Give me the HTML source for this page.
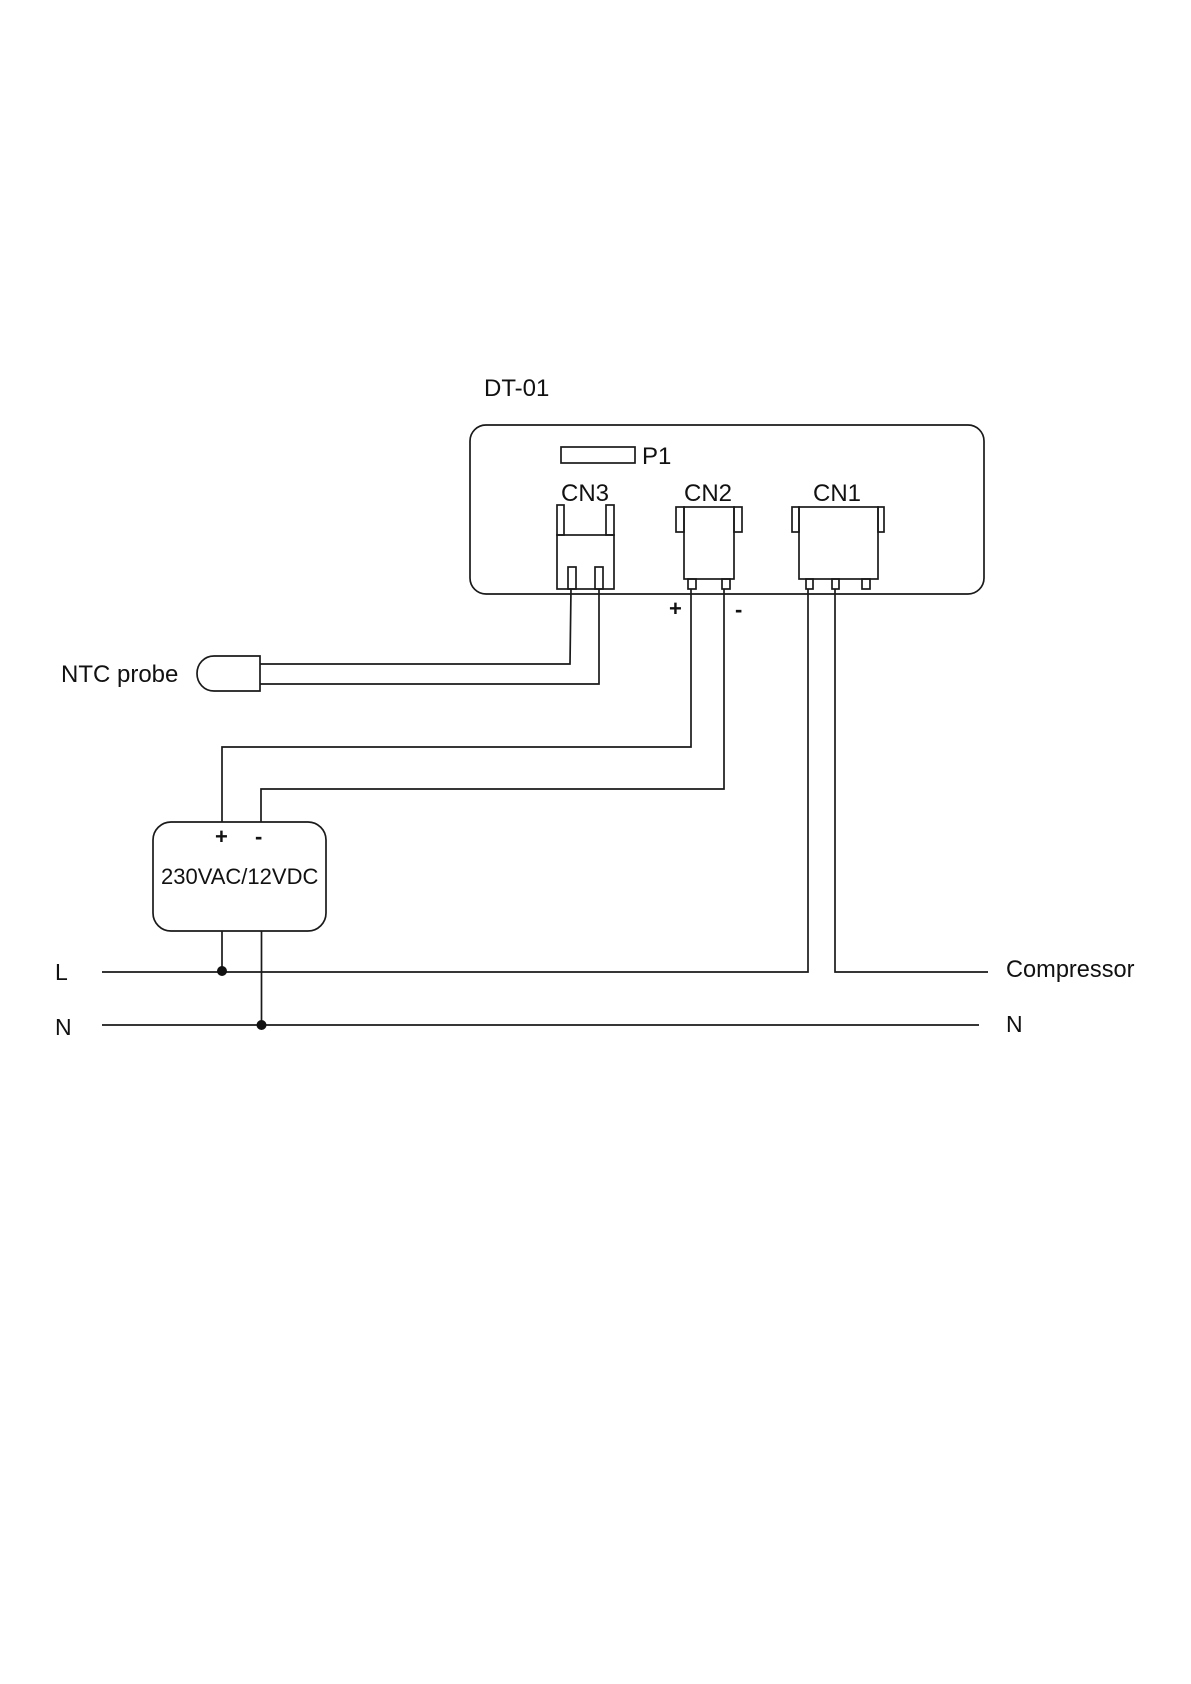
<!DOCTYPE html>
<html>
<head>
<meta charset="utf-8">
<style>
html,body{margin:0;padding:0;background:#fff;}
svg{display:block;}
text{font-family:"Liberation Sans",Arial,sans-serif;fill:#111;}
</style>
</head>
<body>
<svg width="1191" height="1684" viewBox="0 0 1191 1684" xmlns="http://www.w3.org/2000/svg">
<rect width="1191" height="1684" fill="#fff"/>
<g fill="none" stroke="#1a1a1a" stroke-width="1.7">
  <!-- main box -->
  <rect x="470" y="425" width="514" height="169" rx="16" ry="16"/>
  <rect x="561" y="447" width="74" height="16"/>
  <!-- CN3 -->
  <rect x="557" y="535" width="57" height="54"/>
  <rect x="557" y="505" width="7" height="30"/>
  <rect x="606" y="505" width="8" height="30"/>
  <rect x="568" y="567" width="8" height="22"/>
  <rect x="595" y="567" width="8" height="22"/>
  <!-- CN2 -->
  <rect x="684" y="507" width="50" height="72"/>
  <rect x="676" y="507" width="8" height="25"/>
  <rect x="734" y="507" width="8" height="25"/>
  <rect x="688" y="579" width="8" height="10"/>
  <rect x="722" y="579" width="8" height="10"/>
  <!-- CN1 -->
  <rect x="799" y="507" width="79" height="72"/>
  <rect x="792" y="507" width="7" height="25"/>
  <rect x="878" y="507" width="6" height="25"/>
  <rect x="806" y="579" width="7" height="10"/>
  <rect x="832" y="579" width="7" height="10"/>
  <rect x="862" y="579" width="8" height="10"/>
  <!-- probe -->
  <path d="M260 656H214C204 656 197 664 197 673.500C197 683 204 691 214 691H260Z"/>
  <!-- wires -->
  <path d="M260 664H570L571 589"/>
  <path d="M260 684H599V589"/>
  <path d="M222 822V747H691V589"/>
  <path d="M261 822V789H724V589"/>
  <!-- PSU -->
  <rect x="153" y="822" width="173" height="109" rx="18" ry="18"/>
  <path d="M222 931V972"/>
  <path d="M261.500 931V1025"/>
  <path d="M102 972H808V589"/>
  <path d="M835 589V972H988"/>
  <path d="M102 1025H979"/>
</g>
<circle cx="222" cy="971" r="5" fill="#111"/>
<circle cx="261.500" cy="1025" r="5" fill="#111"/>
<text x="484" y="396" font-size="24">DT-01</text>
<text x="642" y="464" font-size="24">P1</text>
<text x="561" y="501" font-size="24">CN3</text>
<text x="684" y="501" font-size="24">CN2</text>
<text x="813" y="501" font-size="24">CN1</text>
<text x="669" y="616" font-size="22" font-weight="bold">+</text>
<text x="735" y="617" font-size="22" font-weight="bold">-</text>
<text x="61" y="682" font-size="24">NTC probe</text>
<text x="161" y="884" font-size="22">230VAC/12VDC</text>
<text x="215" y="844" font-size="22" font-weight="bold">+</text>
<text x="255" y="844" font-size="22" font-weight="bold">-</text>
<text x="55" y="980" font-size="23">L</text>
<text x="55" y="1035" font-size="23">N</text>
<text x="1006" y="977" font-size="23.600">Compressor</text>
<text x="1006" y="1032" font-size="23">N</text>
</svg>
</body>
</html>
